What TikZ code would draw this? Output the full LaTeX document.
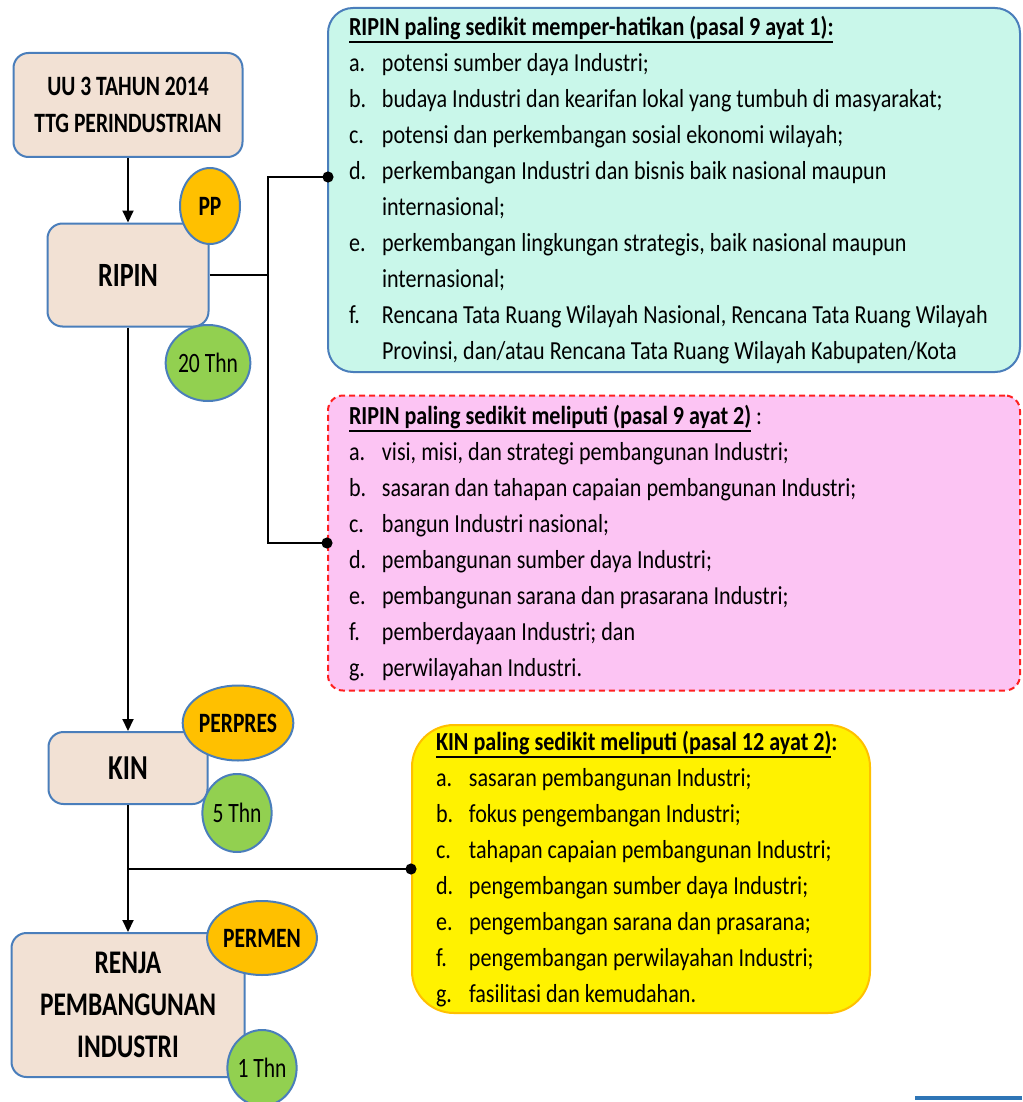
\documentclass[tikz,border=0pt]{standalone}
\usepackage{fontspec}
\setmainfont{Carlito}[FakeStretch=0.85]
\newfontfamily\labelfont{Carlito}[FakeStretch=0.77]
\usetikzlibrary{arrows.meta,shapes.geometric}
\definecolor{boxtan}{HTML}{F2E1D4}
\definecolor{boxblue}{HTML}{4A7EBB}
\definecolor{mint}{HTML}{C9F7EA}
\definecolor{pinkish}{HTML}{FCC4F3}
\definecolor{dashred}{HTML}{FF2020}
\definecolor{gold}{HTML}{FFC000}
\definecolor{leaf}{HTML}{92D050}
\definecolor{barblue}{HTML}{2E75B6}
\newsavebox{\hdrbox}
\newcommand{\itm}[2]{\par\hangindent=33pt\hangafter=1\noindent\makebox[33pt][l]{#1}#2\par}
\newcommand{\listsize}{\fontsize{26}{36}\selectfont}
\newcommand{\hdr}[1]{\noindent\sbox{\hdrbox}{\bfseries #1}\rlap{\rule[-7.5pt]{\wd\hdrbox}{1.6pt}}\usebox{\hdrbox}}
\begin{document}
\begin{tikzpicture}[x=1pt, y=-1pt,
		>={Triangle[length=12pt,width=11pt]},
		conn/.style={line width=2pt},
		endot/.style={conn, -{Circle[length=11pt,width=11pt]}, shorten >=-5.5pt},
		lawbox/.style={draw=boxblue, line width=2pt, fill=boxtan, rounded corners=15pt, align=center},
		badge/.style={ellipse, draw=boxblue, line width=2pt, inner sep=0pt, font=\labelfont\fontsize{28}{30}\selectfont},
		listbox/.style={line width=2pt, align=flush left, inner xsep=21pt, inner ysep=0pt, font=\listsize}]
	\useasboundingbox (0,0) rectangle (1022,1102);
	\node [lawbox, minimum width=229pt, minimum height=104pt, font=\labelfont\fontsize{28}{37}\selectfont\bfseries] (uu) at (128,105) {UU 3 TAHUN 2014\\TTG PERINDUSTRIAN};
	\node [lawbox, minimum width=161pt, minimum height=103pt, font=\labelfont\fontsize{34}{36}\selectfont\bfseries] (ripin) at (128,275) {RIPIN};
	\node [lawbox, minimum width=159pt, minimum height=72pt, font=\labelfont\fontsize{35}{36}\selectfont\bfseries] (kin) at (128,768) {KIN};
	\node [lawbox, minimum width=233pt, minimum height=144pt, font=\labelfont\fontsize{33}{42}\selectfont\bfseries] (renja) at (128,1005) {RENJA\\PEMBANGUNAN\\INDUSTRI};
	\node [listbox, draw=boxblue, fill=mint, rounded corners=25pt, text width=650pt, minimum height=364pt] (hatikan) at (674,190) {%
		\hdr{RIPIN paling sedikit memper-hatikan (pasal 9 ayat 1):}
		\itm{a.}{potensi sumber daya Industri;}
		\itm{b.}{budaya Industri dan kearifan lokal yang tumbuh di masyarakat;}
		\itm{c.}{potensi dan perkembangan sosial ekonomi wilayah;}
		\itm{d.}{perkembangan Industri dan bisnis baik nasional maupun\newline internasional;}
		\itm{e.}{perkembangan lingkungan strategis, baik nasional maupun\newline internasional;}
		\itm{f.}{Rencana Tata Ruang Wilayah Nasional, Rencana Tata Ruang Wilayah\newline Provinsi, dan/atau Rencana Tata Ruang Wilayah Kabupaten/Kota}};
	\node [listbox, draw=dashred, dash pattern=on 6pt off 4pt, fill=pinkish, rounded corners=15pt, text width=650pt, minimum height=295pt] (meliputi) at (674,543) {%
		\hdr{RIPIN paling sedikit meliputi (pasal 9 ayat 2)} :
		\itm{a.}{visi, misi, dan strategi pembangunan Industri;}
		\itm{b.}{sasaran dan tahapan capaian pembangunan Industri;}
		\itm{c.}{bangun Industri nasional;}
		\itm{d.}{pembangunan sumber daya Industri;}
		\itm{e.}{pembangunan sarana dan prasarana Industri;}
		\itm{f.}{pemberdayaan Industri; dan}
		\itm{g.}{perwilayahan Industri.}};
	\node [listbox, draw=gold, fill=yellow, rounded corners=42pt, inner xsep=24pt, text width=410pt, minimum height=288pt] (kinlist) at (641,869) {%
		\hdr{KIN paling sedikit meliputi (pasal 12 ayat 2)}\textbf{:}
		\itm{a.}{sasaran pembangunan Industri;}
		\itm{b.}{fokus pengembangan Industri;}
		\itm{c.}{tahapan capaian pembangunan Industri;}
		\itm{d.}{pengembangan sumber daya Industri;}
		\itm{e.}{pengembangan sarana dan prasarana;}
		\itm{f.}{pengembangan perwilayahan Industri;}
		\itm{g.}{fasilitasi dan kemudahan.}};
	\node [badge, fill=gold, minimum width=60pt, minimum height=76pt, font=\labelfont\fontsize{28}{30}\selectfont\bfseries] (pp) at (210,206) {PP};
	\node [badge, fill=leaf, minimum width=73pt, minimum height=76pt] (ripinthn) at (208,363) {20 Thn};
	\node [badge, fill=gold, minimum width=94pt, minimum height=75pt, font=\labelfont\fontsize{28}{30}\selectfont\bfseries] (perpres) at (238,723) {PERPRES};
	\node [badge, fill=leaf, minimum width=68pt, minimum height=78pt] (kinthn) at (237,813) {5 Thn};
	\node [badge, fill=gold, minimum width=94pt, minimum height=74pt, font=\labelfont\fontsize{28}{30}\selectfont\bfseries] (permen) at (262,938) {PERMEN};
	\node [badge, fill=leaf, minimum width=68pt, minimum height=76pt] (renjathn) at (262,1068) {1 Thn};
	\coordinate (jr) at (268,275);
	\coordinate (h1) at (328,177);
	\coordinate (jk) at (128,869);
	\draw [conn, ->] (uu) -- (ripin);
	\draw [conn, ->] (ripin) -- (kin);
	\draw [conn, ->] (kin) -- (renja);
	\draw [conn] (ripin.east) -- (jr);
	\draw [endot] (jr) |- (h1);
	\draw [endot] (jr) |- (meliputi.west);
	\draw [endot] (jk) -- (kinlist.west);
	\draw [line width=4pt, barblue] (915,1098) -- (1022,1098);
\end{tikzpicture}
\end{document}
